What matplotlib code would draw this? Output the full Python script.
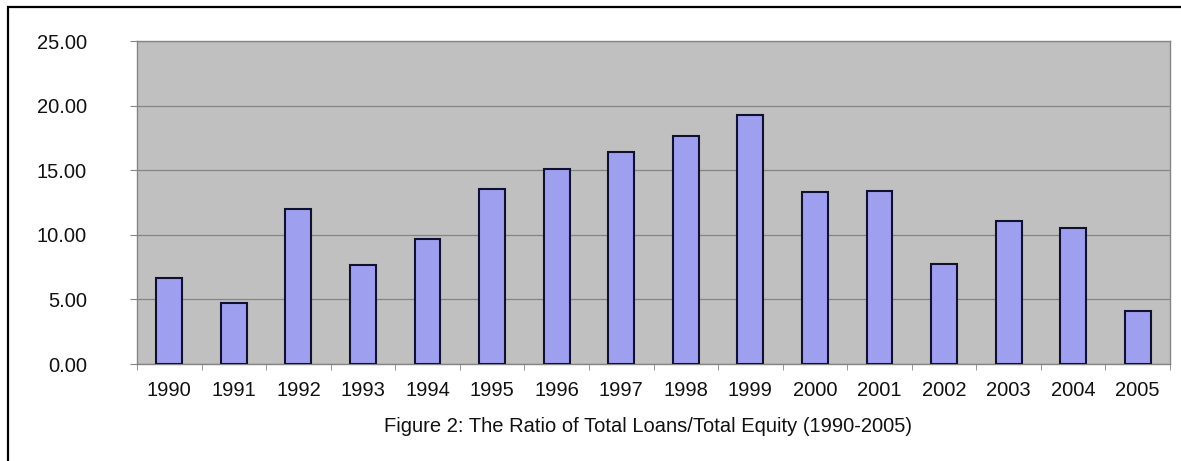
import matplotlib.pyplot as plt
from matplotlib.patches import Rectangle
from matplotlib.ticker import FormatStrFormatter

plt.rcParams['font.family'] = ['Liberation Sans', 'DejaVu Sans']

# data
years = ['1990', '1991', '1992', '1993', '1994', '1995', '1996', '1997',
         '1998', '1999', '2000', '2001', '2002', '2003', '2004', '2005']
ratio = [6.68, 4.75, 11.97, 7.63, 9.64, 13.57, 15.08, 16.42,
         17.63, 19.30, 13.28, 13.41, 7.76, 11.05, 10.51, 4.09]
yticks = [0, 5, 10, 15, 20, 25]
caption = 'Figure 2: The Ratio of Total Loans/Total Equity (1990-2005)'

W, H = 1181, 461
fig = plt.figure(figsize=(W / 100, H / 100), dpi=100)

# outer frame (only top and left edges fall inside the image)
fig.patches.append(Rectangle((8 / W, -0.1), 1.2, (H - 7) / H + 0.1,
                             transform=fig.transFigure, fill=False,
                             edgecolor='black', linewidth=1.6))

# plot area in pixels: x 137..1170, y 41..364
ax = fig.add_axes([137 / W, 1 - 364 / H, (1170 - 137) / W, (364 - 41) / H])
ax.set_facecolor('#c0c0c0')

x = list(range(len(years)))
ax.bar(x, ratio, width=0.4, color='#9f9fef', edgecolor='#101030',
       linewidth=1.5, zorder=3)

ax.set_xlim(-0.5, len(years) - 0.5)
ax.set_ylim(0, 25)
ax.set_yticks(yticks)
ax.yaxis.set_major_formatter(FormatStrFormatter('%.2f'))
ax.set_xticks(x)
ax.set_xticklabels(years)
ax.set_xticks([i - 0.5 for i in range(len(years) + 1)], minor=True)

ax.grid(axis='y', color='#858585', linewidth=0.9, zorder=1)
for s in ax.spines.values():
    s.set_color('#858585')
    s.set_linewidth(1.0)

ax.tick_params(axis='x', which='major', length=0, pad=12, labelsize=14.5,
               colors='#111111')
ax.tick_params(axis='x', which='minor', length=4, color='#858585')
ax.tick_params(axis='y', length=5, color='#858585', pad=31, labelsize=14.5,
               labelcolor='#111111')

fig.text(648 / W, 1 - 426 / H, caption, ha='center', va='center',
         fontsize=14.5, color='#111111')

fig.savefig('out.png', dpi=100)
